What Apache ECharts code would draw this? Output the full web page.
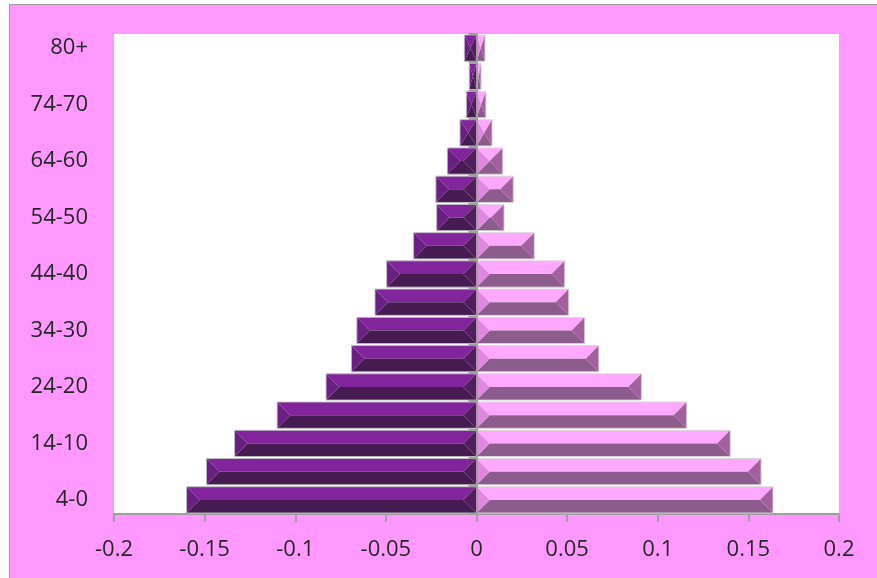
<!DOCTYPE html>
<html>
<head>
<meta charset="utf-8">
<script src="https://cdn.jsdelivr.net/npm/echarts@6/dist/echarts.min.js"></script>
<style>
  html,body{margin:0;padding:0;background:#fff;}
  #frame{position:absolute;left:9px;top:4px;width:868px;height:574px;background:#FF99FF;border-left:1.5px solid #a0a0a0;border-top:1.5px solid #a0a0a0;box-sizing:border-box;}
  #chart{position:absolute;left:0;top:0;width:877px;height:578px;}
</style>
</head>
<body>
<div id="frame"></div>
<div id="chart"></div>
<script>
const categories = ['4-0','9-5','14-10','19-15','24-20','29-25','34-30','39-35','44-40','49-45','54-50','59-55','64-60','69-65','74-70','79-75','80+'];
const male = [-0.160, -0.149, -0.1335, -0.110, -0.083, -0.069, -0.066, -0.056, -0.0496, -0.0347, -0.0220, -0.0224, -0.0161, -0.0091, -0.0056, -0.0040, -0.0067];
const female = [0.1636, 0.157, 0.140, 0.116, 0.091, 0.0675, 0.0597, 0.0509, 0.0487, 0.0319, 0.0152, 0.0203, 0.0145, 0.0086, 0.0052, 0.0025, 0.0047];
const xTicks = [-0.2, -0.15, -0.1, -0.05, 0, 0.05, 0.1, 0.15, 0.2];

const maleColors = {top:'#82259C', bottom:'#461B52', left:'#6A1F82', right:'#521C5E', edge:'rgba(190,190,190,0.9)'};
const femaleColors = {top:'#FFA8FF', bottom:'#8C5C8C', left:'#E088E0', right:'#A2609F', edge:'rgba(215,215,215,0.9)'};

function bevelRenderer(col){
  return function(params, api){
    const v = api.value(0), c = api.value(1);
    const p0 = api.coord([0, c]);
    const p1 = api.coord([v, c]);
    const bh = api.size([0, 1])[1] * 0.93;
    const h = bh / 2;
    const xl = Math.min(p0[0], p1[0]), xr = Math.max(p0[0], p1[0]);
    const yc = p0[1], yt = yc - h, yb = yc + h;
    const b = Math.min(h, (xr - xl) / 2);
    return {
      type:'group',
      children:[
        {type:'polygon', shape:{points:[[xl,yt],[xr,yt],[xr-b,yc],[xl+b,yc]]}, style:{fill:col.top}},
        {type:'polygon', shape:{points:[[xl,yb],[xr,yb],[xr-b,yc],[xl+b,yc]]}, style:{fill:col.bottom}},
        {type:'polygon', shape:{points:[[xl,yt],[xl+b,yc],[xl,yb]]}, style:{fill:col.left}},
        {type:'polygon', shape:{points:[[xr,yt],[xr-b,yc],[xr,yb]]}, style:{fill:col.right}},
        {type:'rect', shape:{x:xl,y:yt,width:xr-xl,height:bh}, style:{fill:'none', stroke:col.edge, lineWidth:1}}
      ]
    };
  };
}

const chart = echarts.init(document.getElementById('chart'), null, {renderer:'canvas'});
const font = {fontFamily:'Open Sans', fontSize:22, color:'#262626'};
chart.setOption({
  backgroundColor:'transparent',
  animation:false,
  grid:{left:114, right:38, top:34, bottom:64, show:true, backgroundColor:'#ffffff', borderWidth:0},
  xAxis:{
    type:'value', min:-0.2, max:0.2, interval:0.05,
    splitLine:{show:false},
    axisLine:{show:true, onZero:false, lineStyle:{color:'#a0a0a0', width:2}},
    axisTick:{show:true, length:8, lineStyle:{color:'#a0a0a0', width:2}},
    axisLabel:Object.assign({margin:25, formatter:function(v){
      let best = xTicks.reduce((a,t)=>Math.abs(t-v)<Math.abs(a-v)?t:a, xTicks[0]);
      return String(best);
    }}, font)
  },
  yAxis:[
    {
      type:'category', data:categories, position:'left',
      axisLine:{show:false, onZero:false},
      axisTick:{show:false},
      axisLabel:Object.assign({interval:1, margin:26}, font)
    },
    {
      type:'category', data:categories, position:'left', z:5,
      axisLine:{show:true, onZero:true, lineStyle:{color:'#a0a0a0', width:2}},
      axisTick:{show:true, interval:0, length:8, lineStyle:{color:'#a0a0a0', width:2}},
      axisLabel:{show:false}
    }
  ],
  series:[
    {type:'custom', name:'male', yAxisIndex:0, renderItem:bevelRenderer(maleColors),
     encode:{x:0, y:1}, data:male.map((v,i)=>[v,i]), z:2},
    {type:'custom', name:'female', yAxisIndex:0, renderItem:bevelRenderer(femaleColors),
     encode:{x:0, y:1}, data:female.map((v,i)=>[v,i]), z:2}
  ]
});
</script>
</body>
</html>
